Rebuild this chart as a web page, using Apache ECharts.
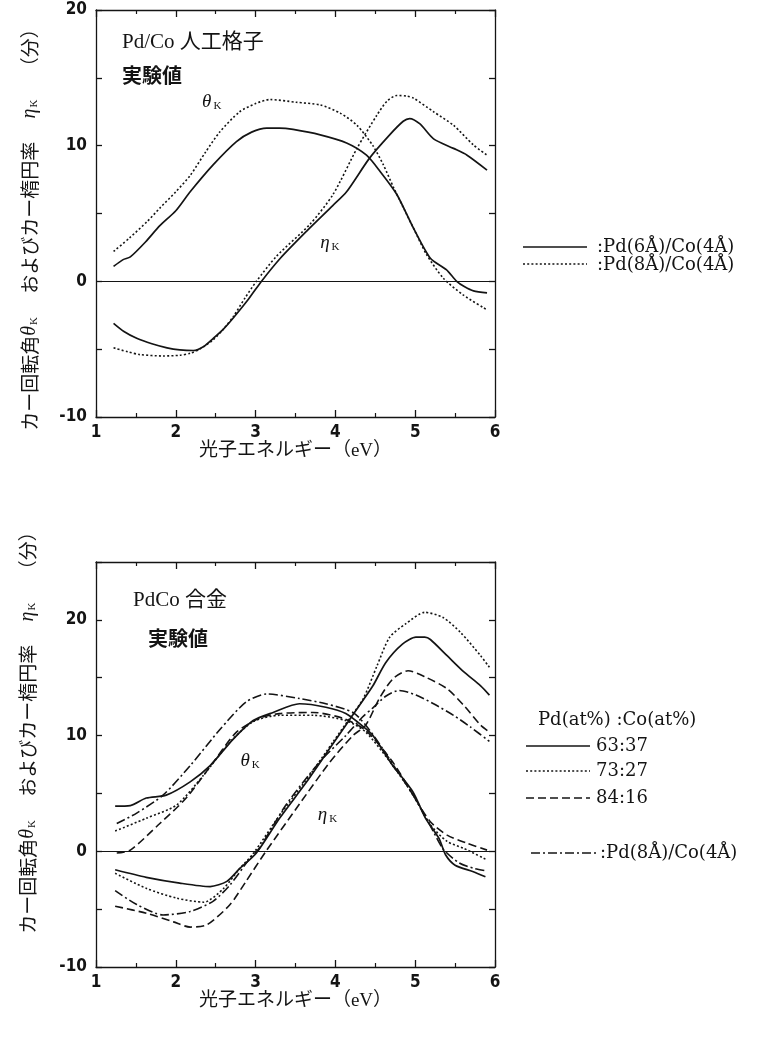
<!DOCTYPE html>
<html>
<head>
<meta charset="utf-8">
<script src="https://cdn.jsdelivr.net/npm/echarts@6/dist/echarts.min.js"></script>
<style>
  html, body { margin: 0; padding: 0; background: #fff; }
  #app { width: 782px; height: 1037px; }
</style>
</head>
<body>
<div id="app"></div>
<script>
// --- data: [photon energy (eV), angle (min)] ---
// upper panel: Pd/Co multilayers
const topThetaPd6 = [[1.22,1.1],[1.34,1.6],[1.43,1.8],[1.62,2.9],[1.8,4.1],[2.0,5.2],[2.18,6.6],[2.47,8.6],[2.76,10.3],[2.95,11.0],[3.14,11.3],[3.3,11.3],[3.47,11.2],[3.81,10.8],[4.14,10.2],[4.39,9.3],[4.56,8.1],[4.77,6.4],[4.98,3.9],[5.19,1.7],[5.39,0.86],[5.52,0.0],[5.62,-0.4],[5.73,-0.7],[5.9,-0.85]];
const topThetaPd8 = [[1.22,2.2],[1.42,3.2],[1.64,4.4],[1.8,5.4],[2.0,6.6],[2.18,7.8],[2.37,9.5],[2.55,11.0],[2.8,12.5],[3.0,13.1],[3.18,13.4],[3.51,13.2],[3.81,13.0],[4.06,12.4],[4.27,11.5],[4.47,10.0],[4.6,8.6],[4.73,6.9],[4.98,3.9],[5.14,2.0],[5.35,0.25],[5.6,-1.0],[5.9,-2.1]];
const topEtaPd6 = [[1.22,-3.1],[1.35,-3.7],[1.51,-4.2],[1.7,-4.6],[1.89,-4.9],[2.05,-5.05],[2.22,-5.1],[2.35,-4.8],[2.47,-4.2],[2.6,-3.5],[2.72,-2.7],[2.9,-1.4],[3.06,-0.1],[3.31,1.7],[3.64,3.7],[3.97,5.6],[4.14,6.6],[4.43,9.1],[4.68,10.8],[4.85,11.8],[4.93,12.0],[5.06,11.6],[5.23,10.5],[5.48,9.8],[5.65,9.3],[5.9,8.2]];
const topEtaPd8 = [[1.22,-4.9],[1.4,-5.2],[1.55,-5.4],[1.84,-5.5],[2.05,-5.45],[2.18,-5.3],[2.3,-5.0],[2.47,-4.3],[2.6,-3.5],[2.72,-2.6],[2.87,-1.2],[3.01,0.0],[3.26,1.84],[3.68,4.2],[3.97,6.4],[4.27,9.8],[4.52,12.25],[4.65,13.3],[4.77,13.7],[4.9,13.65],[4.98,13.5],[5.23,12.5],[5.48,11.5],[5.73,10.05],[5.9,9.3]];

// lower panel: PdCo alloys + Pd(8A)/Co(4A)
const botTheta6337 = [[1.24,3.9],[1.43,3.95],[1.63,4.6],[1.88,4.85],[2.18,6.0],[2.43,7.4],[2.72,9.7],[2.97,11.3],[3.22,12.0],[3.55,12.75],[3.88,12.45],[4.13,11.9],[4.38,10.6],[4.47,10.0],[4.72,7.4],[4.97,5.15],[5.13,2.85],[5.3,1.1],[5.38,-0.3],[5.5,-1.2],[5.72,-1.75],[5.88,-2.2]];
const botTheta7327 = [[1.24,1.75],[1.63,2.85],[2.01,4.0],[2.35,6.6],[2.68,9.45],[2.97,11.2],[3.3,11.75],[3.72,11.75],[4.13,11.3],[4.38,10.3],[4.72,7.4],[4.97,4.9],[5.19,2.3],[5.4,0.85],[5.61,0.25],[5.9,-0.75]];
const botTheta8416 = [[1.26,-0.15],[1.43,0.1],[1.8,2.4],[2.13,4.6],[2.47,7.7],[2.76,10.3],[3.05,11.5],[3.3,11.9],[3.72,12.0],[4.09,11.5],[4.38,10.45],[4.72,7.7],[4.97,4.9],[5.19,2.55],[5.4,1.4],[5.65,0.7],[5.9,0.1]];
const botThetaML = [[1.26,2.4],[1.51,3.3],[1.84,4.85],[2.18,7.4],[2.55,10.5],[2.88,12.9],[3.14,13.6],[3.55,13.2],[3.88,12.75],[4.22,12.0],[4.38,10.9],[4.56,9.2],[4.75,7.2],[4.97,4.9],[5.19,2.2],[5.35,0.2],[5.55,-1.0],[5.75,-1.5],[5.9,-1.7]];
const botEta6337 = [[1.24,-1.6],[1.63,-2.25],[2.05,-2.75],[2.43,-3.05],[2.64,-2.6],[2.8,-1.5],[3.01,-0.15],[3.3,2.85],[3.64,6.0],[3.93,8.9],[4.13,10.9],[4.27,12.3],[4.47,14.3],[4.63,16.3],[4.84,17.9],[5.01,18.5],[5.12,18.5],[5.19,18.3],[5.4,16.9],[5.61,15.5],[5.82,14.3],[5.93,13.5]];
const botEta7327 = [[1.24,-1.9],[1.63,-3.2],[2.01,-4.05],[2.35,-4.4],[2.6,-3.2],[2.8,-1.5],[2.97,-0.2],[3.3,3.1],[3.68,6.6],[3.97,9.45],[4.18,11.5],[4.35,13.2],[4.52,16.0],[4.68,18.5],[4.88,19.65],[5.12,20.65],[5.35,20.2],[5.57,18.9],[5.82,16.9],[5.93,15.9]];
const botEta8416 = [[1.24,-4.75],[1.63,-5.35],[1.97,-6.1],[2.18,-6.55],[2.39,-6.35],[2.68,-4.6],[2.88,-2.6],[3.13,0.0],[3.51,3.7],[3.93,7.7],[4.22,10.0],[4.38,10.9],[4.55,13.2],[4.72,14.9],[4.91,15.6],[5.13,15.05],[5.4,14.05],[5.61,12.6],[5.82,10.9],[5.93,10.3]];
const botEtaML = [[1.24,-3.4],[1.51,-4.6],[1.84,-5.5],[2.18,-5.2],[2.47,-4.3],[2.68,-2.9],[2.93,-0.6],[3.05,0.3],[3.38,4.0],[3.8,7.7],[4.13,10.0],[4.34,11.6],[4.47,12.4],[4.63,13.4],[4.8,13.9],[5.01,13.5],[5.23,12.75],[5.48,11.75],[5.69,10.75],[5.93,9.5]];

// axis ranges and labels
const xRange = [1, 6];
const topYRange = [-10, 20];
const botYRange = [-10, 25];
const xTitle = '光子エネルギー（eV）';
const yTitle = 'カー回転角{g|θ}{k|K}　 およびカー楕円率　 {g|η}{k|K}　 （分）';
const topLegend = [':Pd(6Å)/Co(4Å)', ':Pd(8Å)/Co(4Å)'];
const botLegendHead = 'Pd(at%) :Co(at%)';
const botLegend = ['63:37', '73:27', '84:16'];
const botLegendML = ':Pd(8Å)/Co(4Å)';

const INK = '#141414';
const numFont = "'Liberation Sans Narrow','DejaVu Sans Condensed',sans-serif";
const serif = "'DejaVu Serif','Noto Sans CJK JP',serif";
const jp = "'Liberation Serif','Noto Sans CJK JP',serif";

const LS = {
  solid: { type: 'solid', width: 1.7 },
  dotted: { type: [2, 2.2], width: 1.6 },
  dashed: { type: [8, 4], width: 1.6 },
  dashdot: { type: [9, 3, 2, 3], width: 1.6 }
};

const chart = echarts.init(document.getElementById('app'));

function xAxes(gi) {
  const base = {
    type: 'value', gridIndex: gi, min: xRange[0], max: xRange[1], interval: 1,
    splitLine: { show: false },
    axisLine: { show: true, onZero: false, lineStyle: { color: INK, width: 1.3 } },
    axisTick: { show: true, inside: true, length: 7, lineStyle: { color: INK, width: 1.3 } },
    minorTick: { show: true, splitNumber: 2, length: 4, lineStyle: { color: INK, width: 1.2 } }
  };
  return [
    Object.assign({}, base, {
      position: 'bottom',
      axisLabel: { color: INK, fontFamily: numFont, fontWeight: 'bold', fontSize: 17, margin: 7 },
      name: xTitle, nameLocation: 'middle', nameGap: gi === 0 ? 21 : 24,
      nameTextStyle: { color: INK, fontFamily: jp, fontSize: 19, verticalAlign: 'top' }
    }),
    Object.assign({}, base, { position: 'top', axisLabel: { show: false } })
  ];
}

function yAxes(gi, range) {
  const base = {
    type: 'value', gridIndex: gi, min: range[0], max: range[1], interval: 5,
    splitLine: { show: false },
    axisLine: { show: true, onZero: false, lineStyle: { color: INK, width: 1.3 } },
    axisTick: { show: true, inside: true, length: 6, lineStyle: { color: INK, width: 1.3 } }
  };
  return [
    Object.assign({}, base, {
      position: 'left',
      axisLabel: {
        color: INK, fontFamily: numFont, fontWeight: 'bold', fontSize: 17, margin: 9,
        formatter: v => (v % 10 === 0 ? String(v) : '')
      }
    }),
    Object.assign({}, base, { position: 'right', axisLabel: { show: false } })
  ];
}

function line(name, data, style, gi, zero) {
  const s = {
    type: 'line', name, data,
    xAxisIndex: gi * 2, yAxisIndex: gi * 2,
    showSymbol: false, symbol: 'none', smooth: 0.25, silent: true,
    lineStyle: { color: INK, width: style.width, type: style.type, cap: 'butt' },
    z: 3
  };
  if (zero) {
    s.markLine = {
      silent: true, symbol: 'none', label: { show: false },
      lineStyle: { color: INK, type: 'solid', width: 1.2 },
      data: [{ yAxis: 0 }]
    };
  }
  return s;
}

const option = {
  animation: false,
  backgroundColor: '#fff',
  grid: [
    { left: 96, top: 10, width: 399, height: 407 },
    { left: 96, top: 562, width: 399, height: 405 }
  ],
  xAxis: [...xAxes(0), ...xAxes(1)],
  yAxis: [...yAxes(0, topYRange), ...yAxes(1, botYRange)],
  series: [
    line('θ Pd6/Co4', topThetaPd6, LS.solid, 0, true),
    line('θ Pd8/Co4', topThetaPd8, LS.dotted, 0),
    line('η Pd6/Co4', topEtaPd6, LS.solid, 0),
    line('η Pd8/Co4', topEtaPd8, LS.dotted, 0),
    line('θ 63:37', botTheta6337, LS.solid, 1, true),
    line('θ 73:27', botTheta7327, LS.dotted, 1),
    line('θ 84:16', botTheta8416, LS.dashed, 1),
    line('θ Pd8/Co4', botThetaML, LS.dashdot, 1),
    line('η 63:37', botEta6337, LS.solid, 1),
    line('η 73:27', botEta7327, LS.dotted, 1),
    line('η 84:16', botEta8416, LS.dashed, 1),
    line('η Pd8/Co4', botEtaML, LS.dashdot, 1)
  ]
};
chart.setOption(option);

// ---- text annotations and legends ----
const greek = { fontFamily: "'Liberation Serif',serif", fontStyle: 'italic', fontSize: 19, fill: INK };
const sub = { fontFamily: "'Liberation Serif',serif", fontSize: 11, fill: INK, verticalAlign: 'bottom', padding: [0, 0, 0, 2] };

function txt(x, y, text, extra) {
  return {
    type: 'text', x, y, silent: true,
    style: Object.assign({ text, fill: INK, fontFamily: jp, fontSize: 18, align: 'left', verticalAlign: 'middle' }, extra || {})
  };
}
function symbolLabel(gi, pos, letter) {
  const p = chart.convertToPixel({ gridIndex: gi }, pos);
  return txt(p[0], p[1], '{g|' + letter + '}{k|K}', { align: 'center', rich: { g: greek, k: sub } });
}
function legendLine(x1, x2, y, style) {
  return {
    type: 'line', silent: true,
    shape: { x1, y1: y, x2, y2: y },
    style: { stroke: INK, lineWidth: style.width - 0.2, lineDash: style.type === 'solid' ? null : style.type }
  };
}
function yTitleText(x, y) {
  const t = txt(x, y, yTitle, {
    align: 'center', fontFamily: "'Noto Sans CJK JP',sans-serif", fontSize: 19,
    rich: {
      g: { fontFamily: "'Liberation Serif',serif", fontStyle: 'italic', fontSize: 20, fill: INK },
      k: { fontFamily: "'Liberation Serif',serif", fontSize: 11, fill: INK, verticalAlign: 'bottom', padding: [0, 0, 0, 1] }
    }
  });
  t.rotation = Math.PI / 2;
  return t;
}

const legendStyles = [LS.solid, LS.dotted, LS.dashed];
const graphics = [
  yTitleText(30, 225),
  yTitleText(28, 728),
  txt(122, 42, 'Pd/Co 人工格子', { fontSize: 21 }),
  txt(122, 75, '実験値', { fontSize: 20, fontFamily: "'Noto Sans CJK JP'", fontWeight: 'bold' }),
  txt(133, 600, 'PdCo 合金', { fontSize: 21 }),
  txt(148, 638, '実験値', { fontSize: 20, fontFamily: "'Noto Sans CJK JP'", fontWeight: 'bold' }),
  symbolLabel(0, [2.45, 13.2], 'θ'),
  symbolLabel(0, [3.93, 2.8], 'η'),
  symbolLabel(1, [2.93, 7.8], 'θ'),
  symbolLabel(1, [3.9, 3.1], 'η'),
  legendLine(523, 587, 247, LS.solid),
  legendLine(523, 587, 264, LS.dotted),
  txt(597, 247, topLegend[0], { fontFamily: serif, fontSize: 18 }),
  txt(597, 265, topLegend[1], { fontFamily: serif, fontSize: 18 }),
  txt(538, 720, botLegendHead, { fontFamily: serif, fontSize: 18 })
];
botLegend.forEach((label, i) => {
  const y = [746, 771, 798][i];
  graphics.push(legendLine(526, 590, y, legendStyles[i]));
  graphics.push(txt(596, y, label, { fontFamily: serif, fontSize: 18 }));
});
graphics.push(legendLine(531, 597, 853, LS.dashdot));
graphics.push(txt(600, 853, botLegendML, { fontFamily: serif, fontSize: 18 }));

chart.setOption({ graphic: graphics });
</script>
</body>
</html>
